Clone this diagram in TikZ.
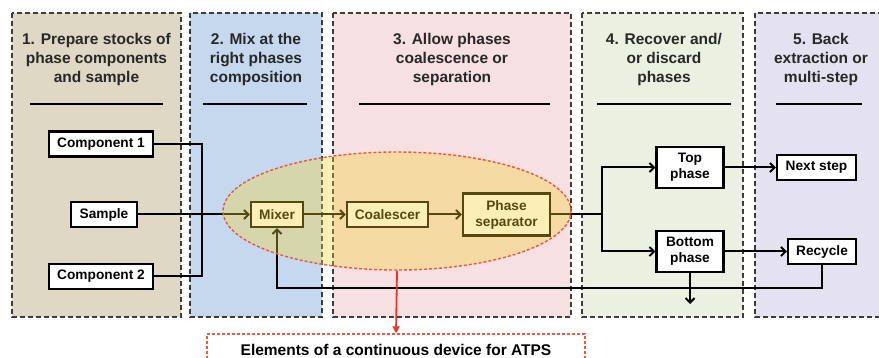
\documentclass[tikz,border=0pt]{standalone}
\usepackage{fontspec}
\setmainfont{Liberation Sans}
\usetikzlibrary{positioning}
\usetikzlibrary{arrows.meta}
\usetikzlibrary{shapes.geometric}
\definecolor{stockfill}{RGB}{222,216,197}
\definecolor{mixfill}{RGB}{197,216,238}
\definecolor{sepfill}{RGB}{246,224,225}
\definecolor{recfill}{RGB}{236,240,224}
\definecolor{backfill}{RGB}{228,226,240}
\definecolor{framegray}{RGB}{60,60,60}
\definecolor{headgray}{RGB}{40,40,40}
\definecolor{devred}{RGB}{232,88,66}
\definecolor{devyellow}{RGB}{245,212,50}
\definecolor{pointred}{RGB}{226,58,40}

\begin{document}
\begin{tikzpicture}[%
x=1pt, y=-1pt,
>={Straight Barb[length=4.5pt,width=9pt]},
panel/.style={draw=framegray,line width=1.8pt,dash pattern=on 5pt off 3pt},
heading/.style={align=center,text=headgray,font=\fontsize{15.5}{19}\selectfont\bfseries},
divider/.style={line width=1.8pt},
unit/.style={draw,line width=2.2pt,fill=white,align=center,inner sep=2pt,
  minimum height=25pt,font=\fontsize{13.7}{16}\selectfont\bfseries},
flow/.style={line width=2pt},
device/.style={ellipse,draw=devred,line width=1.4pt,dash pattern=on 3pt off 2pt,
  fill=devyellow,fill opacity=0.35,inner sep=0pt},
pointer/.style={draw=pointred,line width=1.8pt,-{Triangle[length=7pt,width=7pt]}},
note/.style={draw=devred,line width=1.4pt,dash pattern=on 3pt off 2pt,
  font=\fontsize{15.5}{19}\selectfont\bfseries}]
\useasboundingbox (0,0) rectangle (879,358);
\draw [panel,fill=stockfill] (12,13)  rectangle (181,317);
\draw [panel,fill=mixfill]   (190,13) rectangle (322,317);
\draw [panel,fill=sepfill]   (333,13) rectangle (571,317);
\draw [panel,fill=recfill]   (582,13) rectangle (743,317);
\draw [panel,fill=backfill]  (755,13) rectangle (895,317);
\node [heading] (h1) at (96.5,59) {1. Prepare stocks of\\phase components\\and sample};
\node [heading] (h2) at (256,59)  {2. Mix at the\\right phases\\composition};
\node [heading] (h3) at (452,59)  {3. Allow phases\\coalescence or\\separation};
\node [heading] (h4) at (664,59)  {4. Recover and/\\or discard\\phases};
\node [heading] (h5) at (821,59)  {5. Back\\extraction or\\multi-step};
\draw [divider] (30,104)  -- (163,104);
\draw [divider] (203,104) -- (307,104);
\draw [divider] (359,104) -- (550,104);
\draw [divider] (597,104) -- (731,104);
\draw [divider] (776,104) -- (862,104);
\node [unit,minimum width=104pt] (comp1)     at (101,144)   {Component 1};
\node [unit,minimum width=66pt]  (sample)    at (104,214.5) {Sample};
\node [unit,minimum width=104pt] (comp2)     at (101,276.5) {Component 2};
\node [unit,minimum width=52pt]  (mixer)     at (277,214.5) {Mixer};
\node [unit,minimum width=81pt]  (coalescer) at (387.5,214.5) {Coalescer};
\node [unit,minimum width=87pt,minimum height=42pt] (separator) at (506.5,214.5) {Phase\\separator};
\node [unit,minimum width=67pt,minimum height=41pt] (top)       at (690,167.5) {Top\\phase};
\node [unit,minimum width=67pt,minimum height=41pt] (bottom)    at (690,251.5) {Bottom\\phase};
\node [unit,minimum width=79pt]  (nextstep)  at (816.5,167.5) {Next step};
\node [unit,minimum width=68pt]  (recycle)   at (822,251.5) {Recycle};
\coordinate (merge) at (202,214.5);
\coordinate (split) at (602,214.5);
\coordinate (waste) at (690,304);
\draw [flow] (comp1.east) -| (merge) |- (comp2.east);
\draw [flow,->] (sample) -- (mixer);
\draw [flow,->] (mixer) -- (coalescer);
\draw [flow,->] (coalescer) -- (separator);
\draw [flow] (separator) -- (split);
\draw [flow,->] (split) |- (top);
\draw [flow,->] (split) |- (bottom);
\draw [flow,->] (top) -- (nextstep);
\draw [flow,->] (bottom) -- (recycle);
\draw [flow,->] (bottom) -- (waste);
\draw [flow,->] (recycle.south) -- ++(0,23) -| (mixer.south);
\node [device,minimum width=348pt,minimum height=118pt] (ring) at (397,211) {};
\node [note,minimum width=378pt,minimum height=32pt] (elements) at (396,350) {Elements of a continuous device for ATPS};
\draw [pointer] (ring.south) -- (elements.north);
\end{tikzpicture}
\end{document}
